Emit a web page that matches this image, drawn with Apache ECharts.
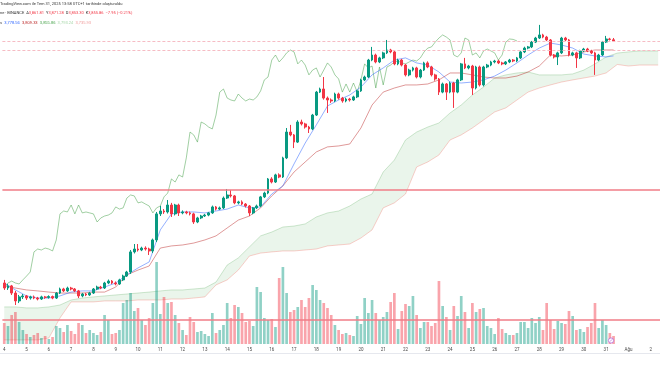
<!DOCTYPE html>
<html><head><meta charset="utf-8">
<script src="https://cdn.jsdelivr.net/npm/echarts@6/dist/echarts.min.js"></script>
<style>html,body{margin:0;padding:0;background:#fff}#c{width:660px;height:365px}</style>
</head><body><div id="c"></div>
<script>
const dayLabels = ['4','5','6','7','8','9','10','11','12','13','14','15','16','17','18','19','20','21','22','23','24','25','26','27','28','29','30','31','Ağu','2'];
const barHours = ['01:00','05:00','09:00','13:00','17:00','21:00'];

const opens = [2602,2576,2587,2550,2509,2530,2535,2524,2530,2524,2519,2530,2527,2532,2524,2550,2571,2561,2576,2571,2561,2535,2545,2540,2550,2571,2581,2576,2602,2612,2602,2597,2618,2638,2659,2763,2778,2773,2783,2778,2768,2825,2960,2975,2970,3006,2960,3006,2965,2970,2965,2960,2918,2939,2949,2954,2965,2996,2985,2991,3042,3058,3053,3017,3022,3011,3001,2965,2991,3001,3048,3068,3141,3125,3162,3151,3250,3384,3369,3332,3436,3426,3410,3400,3472,3591,3607,3560,3550,3545,3581,3560,3545,3555,3550,3566,3597,3654,3669,3757,3783,3747,3768,3794,3809,3799,3737,3757,3731,3680,3705,3716,3669,3705,3742,3721,3680,3659,3591,3633,3591,3638,3591,3654,3737,3716,3726,3612,3721,3628,3721,3731,3747,3752,3742,3737,3747,3757,3752,3768,3799,3819,3825,3850,3871,3887,3876,3861,3783,3773,3794,3871,3861,3783,3794,3768,3804,3814,3804,3794,3757,3783,3850,3866,3861.81];
const closes = [2576,2587,2550,2509,2530,2535,2524,2530,2524,2519,2530,2527,2532,2524,2550,2571,2561,2576,2571,2561,2535,2545,2540,2550,2571,2581,2576,2602,2612,2602,2597,2618,2638,2659,2763,2778,2773,2783,2778,2768,2825,2960,2975,2970,3006,2960,3006,2965,2970,2965,2960,2918,2939,2949,2954,2965,2996,2985,2991,3042,3058,3053,3017,3022,3011,3001,2965,2991,3001,3048,3068,3141,3125,3162,3151,3250,3384,3369,3332,3436,3426,3410,3400,3472,3591,3607,3560,3550,3545,3581,3560,3545,3555,3550,3566,3597,3654,3669,3757,3783,3747,3768,3794,3809,3799,3737,3757,3731,3680,3705,3716,3669,3705,3742,3721,3680,3659,3591,3633,3591,3638,3591,3654,3737,3716,3726,3612,3721,3628,3721,3731,3747,3752,3742,3737,3747,3757,3752,3768,3799,3819,3825,3850,3871,3887,3876,3861,3783,3773,3794,3871,3861,3783,3794,3768,3804,3814,3804,3794,3757,3783,3850,3866,3863.81,3855.86];
const lows = [2566,2566,2540,2488,2498,2519,2514,2516,2518,2512,2514,2520,2521,2518,2519,2545,2555,2556,2564,2555,2524,2528,2534,2535,2545,2566,2570,2571,2596,2596,2590,2592,2612,2633,2649,2755,2765,2767,2770,2747,2757,2814,2949,2960,2962,2944,2952,2949,2958,2958,2952,2908,2912,2933,2944,2948,2960,2978,2980,2985,3037,3045,3010,3010,3005,2993,2949,2958,2985,2995,3042,3062,3118,3120,3145,3146,3244,3362,3301,3327,3418,3402,3379,3394,3467,3586,3552,3483,3535,3539,3552,3536,3538,3542,3545,3560,3592,3648,3664,3751,3740,3741,3762,3788,3792,3730,3730,3724,3672,3673,3698,3662,3662,3700,3715,3672,3650,3576,3585,3550,3585,3509,3585,3648,3710,3709,3576,3605,3620,3620,3715,3725,3740,3736,3730,3731,3741,3746,3746,3762,3793,3813,3819,3845,3866,3870,3855,3776,3765,3731,3788,3855,3776,3777,3716,3762,3798,3798,3788,3680,3751,3778,3845,3858,3853.30];
const highs = [2618,2597,2592,2561,2540,2545,2540,2536,2537,2530,2536,2535,2538,2537,2555,2578,2577,2583,2582,2576,2566,2551,2550,2556,2576,2588,2587,2608,2620,2617,2610,2624,2645,2665,2773,2804,2804,2790,2792,2785,2832,2970,3001,2985,3032,3017,3012,3013,2978,2976,2972,2966,2945,2955,2960,2970,3003,3001,2998,3050,3089,3084,3058,3028,3030,3016,3006,2996,3008,3053,3075,3146,3150,3168,3170,3256,3405,3421,3374,3445,3448,3432,3416,3478,3597,3614,3669,3568,3558,3588,3588,3566,3562,3561,3572,3602,3660,3676,3763,3825,3790,3774,3800,3861,3815,3805,3764,3763,3737,3712,3722,3722,3711,3748,3750,3727,3686,3664,3640,3638,3645,3644,3660,3742,3768,3732,3732,3727,3728,3727,3737,3753,3758,3758,3748,3752,3763,3762,3773,3805,3826,3830,3856,3877,3939,3893,3882,3866,3788,3800,3877,3877,3866,3800,3800,3810,3820,3820,3810,3800,3789,3856,3882,3872,3871.28];
const volumes = [63,54,87,96,66,42,30,21,27,33,18,24,15,21,54,48,36,57,39,30,63,57,33,42,33,27,36,87,72,30,33,42,123,132,153,99,108,72,57,78,123,246,90,141,123,126,87,63,42,27,81,66,36,39,30,24,93,33,42,57,123,78,117,111,93,66,69,54,171,156,78,72,75,51,198,231,153,96,102,111,132,111,138,177,162,132,123,108,87,57,42,30,33,27,24,84,60,138,93,132,93,72,81,96,126,153,45,99,120,114,144,87,48,66,66,54,63,189,114,81,42,114,84,144,96,48,123,96,105,108,54,48,30,78,45,33,27,27,33,66,66,48,78,63,81,42,123,72,45,69,63,60,99,84,42,45,36,51,63,123,48,72,57,33,24];

const lineBars = [0,3,6,9,12,15,18,21,24,27,30,33,36,39,42,45,48,51,54,57,60,63,66,69,72,75,78,81,84,87,90,93,96,99,102,105,108,111,114,117,120,123,126,129,132,135,138,141,144,147,150,153,156,159,162,164];
const tenkan = [2602,2566,2535,2524,2524,2535,2555,2561,2561,2581,2602,2644,2680,2711,2877,2960,2970,2970,2965,2975,2985,3006,2991,2996,3063,3105,3219,3327,3421,3519,3550,3576,3617,3680,3716,3757,3768,3742,3731,3695,3643,3638,3643,3654,3674,3705,3742,3783,3819,3845,3835,3819,3788,3778,3773,3778.56];
const kijun = [2587,2576,2566,2561,2555,2550,2550,2550,2555,2555,2581,2644,2669,2690,2783,2794,2799,2809,2825,2846,2887,2928,2949,2991,3053,3105,3177,3229,3281,3307,3312,3322,3405,3524,3591,3612,3628,3628,3633,3654,3690,3690,3680,3669,3664,3664,3674,3695,3726,3783,3778,3783,3799,3809,3809,3809.33];
const cloudBars = [0,3,6,9,12,15,18,21,24,27,30,33,36,39,42,45,48,51,54,57,60,63,66,69,72,75,78,81,84,87,90,93,96,99,102,105,108,111,114,117,120,123,126,129,132,135,138,141,144,147,150,153,156,159,162,165,168,171,174,176];
const spanA = [2478,2478,2473,2473,2478,2488,2514,2524,2530,2535,2540,2545,2550,2555,2561,2566,2566,2571,2576,2607,2695,2732,2789,2846,2866,2892,2897,2908,2944,2965,2975,3001,3037,3063,3177,3239,3343,3384,3410,3431,3483,3524,3576,3617,3664,3680,3690,3695,3680,3680,3680,3685,3705,3737,3773,3793,3799,3804,3804,3804];
const spanB = [2307,2307,2307,2307,2317,2421,2504,2504,2504,2509,2509,2509,2514,2514,2514,2519,2519,2524,2530,2592,2618,2669,2742,2757,2763,2768,2768,2773,2778,2794,2799,2804,2835,2877,2991,3017,3063,3203,3229,3265,3343,3369,3405,3446,3488,3509,3550,3591,3612,3628,3643,3654,3664,3674,3690,3734,3726,3731,3731,3731];
const chikouShift = 26;
const levels = [3087, 2410];
const dashLevels = [3855.86, 3809.33];

const UP = '#089981', DOWN = '#f23645';
const categories = [];
dayLabels.forEach(d => barHours.forEach(h => categories.push(d + ' ' + h)));
const cats = categories.slice(0, 177);

const candleData = opens.map((o, i) => [o, closes[i], lows[i], highs[i]]);
const volData = volumes.map((v, i) => ({value: v, itemStyle: {color: closes[i] >= opens[i] ? 'rgba(8,153,129,0.45)' : 'rgba(242,54,69,0.45)'}}));

const chart = echarts.init(document.getElementById('c'), null, {renderer: 'canvas'});
chart.setOption({
  animation: false,
  backgroundColor: '#ffffff',
  grid: {left: 0, right: 0, top: 0, height: 344, containLabel: false},
  xAxis: {
    type: 'category', data: cats, boundaryGap: true,
    axisLine: {show: false, onZero: false}, axisTick: {show: false}, splitLine: {show: false},
    axisLabel: {interval: (i) => i % 6 === 0, formatter: (v) => v.split(' ')[0], fontSize: 4.5, color: '#4a4a4a', margin: 3, fontFamily: 'Roboto'}
  },
  yAxis: [
    {type: 'value', min: 2286, max: 4068, show: false, splitLine: {show: false}, axisLine: {show: false}},
    {type: 'value', min: 0, max: 1032, show: false, splitLine: {show: false}, axisLine: {show: false}}
  ],
  series: [
    {
      type: 'custom', name: 'cloud', z: 1, silent: true, clip: true,
      data: cloudBars.map((b, i) => [b, spanA[i], spanB[i]]),
      renderItem: (params, api) => {
        if (params.dataIndex !== 0) return null;
        const top = cloudBars.map((b, i) => api.coord([b, spanA[i]]));
        const bot = cloudBars.map((b, i) => api.coord([b, spanB[i]]));
        return {type: 'group', children: [
          {type: 'polygon', shape: {points: top.concat(bot.slice().reverse())}, style: {fill: 'rgba(67,160,71,0.11)'}},
          {type: 'polyline', shape: {points: top}, style: {stroke: 'rgba(67,160,71,0.25)', lineWidth: 1, fill: null}},
          {type: 'polyline', shape: {points: bot}, style: {stroke: 'rgba(244,67,54,0.25)', lineWidth: 1, fill: null}}
        ]};
      }
    },
    {type: 'bar', name: 'volume', yAxisIndex: 1, z: 2, barWidth: '72%', data: volData, silent: true},
    {type: 'line', name: 'levels', z: 3, silent: true, symbol: 'none', data: [],
     markLine: {silent: true, symbol: 'none', label: {show: false}, animation: false,
       lineStyle: {color: '#f07d87', width: 1.6, type: 'solid', opacity: 1},
       data: levels.map(v => ({yAxis: v}))}},
    {type: 'line', name: 'dashLevels', z: 3, silent: true, symbol: 'none', data: [],
     markLine: {silent: true, symbol: 'none', label: {show: false}, animation: false,
       lineStyle: {color: '#f6bcc4', width: 1, type: [3, 2], opacity: 1},
       data: dashLevels.map(v => ({yAxis: v}))}},
    {type: 'line', name: 'chikou', z: 3, symbol: 'none', silent: true,
     data: closes.slice(chikouShift).map((v, i) => [i, v]),
     lineStyle: {color: 'rgba(67,160,71,0.5)', width: 1}},
    {type: 'line', name: 'kijun', z: 3, symbol: 'none', silent: true,
     data: lineBars.map((b, i) => [b, kijun[i]]),
     lineStyle: {color: 'rgba(183,28,28,0.45)', width: 1}},
    {type: 'line', name: 'tenkan', z: 3, symbol: 'none', silent: true,
     data: lineBars.map((b, i) => [b, tenkan[i]]),
     lineStyle: {color: 'rgba(41,98,255,0.5)', width: 1}},
    {type: 'candlestick', name: 'price', z: 4, barWidth: '62%', data: candleData, silent: true,
     itemStyle: {color: UP, color0: DOWN, borderColor: UP, borderColor0: DOWN, borderWidth: 1}}
  ],
  graphic: [
    {type: 'text', left: 0, top: 2, z: 10, style: {text: 'TradingView.com ile Tem 31, 2025 13:58 UTC+1 tarihinde oluşturuldu', fontSize: 4, fill: '#333', fontFamily: 'Roboto'}},
    {type: 'text', left: 0, top: 11, z: 10, style: {
      text: '{d|ne · BINANCE  }{l|A}{v|3,861.81  }{l|Y}{v|3,871.28  }{l|D}{v|3,853.30  }{l|K}{v|3,855.86  }{v|−7.95 (−0.21%)}',
      rich: {d: {fontSize: 4, fill: '#333', fontFamily: 'Roboto'}, l: {fontSize: 4, fill: '#333', fontFamily: 'Roboto'}, v: {fontSize: 4, fill: '#f23645', fontFamily: 'Roboto'}}}},
    {type: 'text', left: 0, top: 21, z: 10, style: {
      text: '{d|s  }{b|3,778.56  }{r|3,809.33  }{g|3,855.86  }{ga|3,793.24  }{rb|3,735.93}',
      rich: {d: {fontSize: 4, fill: '#333'}, b: {fontSize: 4, fill: '#2962ff'}, r: {fontSize: 4, fill: '#b71c1c'}, g: {fontSize: 4, fill: '#43a047'}, ga: {fontSize: 4, fill: '#a5d6a7'}, rb: {fontSize: 4, fill: '#ef9a9a'}}}},
    {type: 'line', z: 10, shape: {x1: 0, y1: 353.5, x2: 660, y2: 353.5}, style: {stroke: '#e6e8ee', lineWidth: 1}},
    {type: 'circle', z: 10, shape: {cx: 611, cy: 340.5, r: 2.6}, style: {fill: '#fff', stroke: '#b36ad9', lineWidth: 0.8}},
    {type: 'line', z: 11, shape: {x1: 609.8, y1: 341.7, x2: 612.2, y2: 339.3}, style: {stroke: '#b36ad9', lineWidth: 0.7}}
  ]
});
</script>
</body></html>
